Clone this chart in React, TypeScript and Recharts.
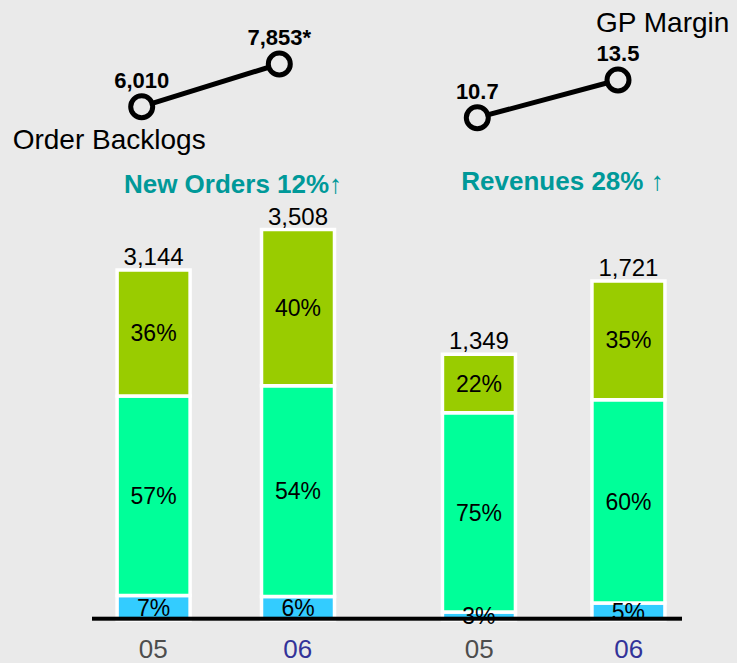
import React from 'react'
import { BarChart, Bar, XAxis, YAxis, LabelList, LineChart, Line } from 'recharts'

const years = ['05', '06']
const yearColors = ['#4D4D4D', '#333399']

// New Orders: totals and segment shares (%)
const orderTotals = [3144, 3508]
const orderSmall = [7, 6]
const orderMain = [57, 54]
const orderTop = [36, 40]

// Revenues: totals and segment shares (%)
const revenueTotals = [1349, 1721]
const revenueSmall = [3, 5]
const revenueMain = [75, 60]
const revenueTop = [22, 35]

const backlogs = [6010, 7853]
const backlogLabels = ['6,010', '7,853*']
const gpMargins = [10.7, 13.5]
const gpLabels = ['10.7', '13.5']

const BG = '#EAEAEA'
const FONT = '"Liberation Sans", Arial, sans-serif'
const W = 737
const H = 663

function buildRows(totals: number[], small: number[], main: number[], top: number[]) {
  return years.map((year, i) => ({
    year,
    total: totals[i],
    small: (totals[i] * small[i]) / 100,
    main: (totals[i] * main[i]) / 100,
    top: (totals[i] * top[i]) / 100,
    smallPct: small[i],
    mainPct: main[i],
    topPct: top[i],
  }))
}

const orderRows = buildRows(orderTotals, orderSmall, orderMain, orderTop)
const revenueRows = buildRows(revenueTotals, revenueSmall, revenueMain, revenueTop)
const backlogRows = backlogs.map((value, idx) => ({ idx, value }))
const gpRows = gpMargins.map((value, idx) => ({ idx, value }))

const YearTick = (props: any) => {
  const { x, y, payload } = props
  const color = yearColors[years.indexOf(payload.value)]
  return (
    <text x={x} y={y + 37.5} textAnchor="middle" fill={color} fontSize={26} fontFamily={FONT}>
      {payload.value}
    </text>
  )
}

const pct = (v: any) => `${v}%`
const thousands = (v: any) => Number(v).toLocaleString('en-US')

function StackedBars({ rows, max, margin }: { rows: any[]; max: number; margin: any }) {
  const labelStyle = { fontSize: 23, fontFamily: FONT, fill: '#000' }
  return (
    <BarChart width={W} height={H} data={rows} margin={margin} barSize={73}>
      <XAxis dataKey="year" height={43} axisLine={false} tickLine={false} tickSize={0} tickMargin={0} tick={<YearTick />} interval={0} />
      <YAxis hide domain={[0, max]} />
      <Bar dataKey="small" stackId="s" fill="#33CCFF" stroke="#FFFFFF" strokeWidth={3.5} isAnimationActive={false}>
        <LabelList dataKey="smallPct" position="center" formatter={pct} style={labelStyle} />
      </Bar>
      <Bar dataKey="main" stackId="s" fill="#00FF99" stroke="#FFFFFF" strokeWidth={3.5} isAnimationActive={false}>
        <LabelList dataKey="mainPct" position="center" formatter={pct} style={labelStyle} />
      </Bar>
      <Bar dataKey="top" stackId="s" fill="#99CC00" stroke="#FFFFFF" strokeWidth={3.5} isAnimationActive={false}>
        <LabelList dataKey="topPct" position="center" formatter={pct} style={labelStyle} />
        <LabelList dataKey="total" position="top" offset={5} formatter={thousands} style={{ fontSize: 24, fontFamily: FONT, fill: '#000' }} />
      </Bar>
    </BarChart>
  )
}

const RingDot = (props: any) => {
  const { cx, cy } = props
  return <circle cx={cx} cy={cy} r={11} fill={BG} stroke="#000" strokeWidth={5} />
}

const pointLabel = (labels: string[]) => (props: any) => {
  const { x, y, index } = props
  return (
    <text x={x} y={y - 19} textAnchor="middle" fontSize={22} fontWeight="bold" fontFamily={FONT} fill="#000">
      {labels[index]}
    </text>
  )
}

function TrendLine({ rows, domain, margin, labels }: { rows: any[]; domain: number[]; margin: any; labels: string[] }) {
  return (
    <LineChart width={W} height={200} data={rows} margin={margin}>
      <XAxis hide type="number" dataKey="idx" domain={[0, 1]} />
      <YAxis hide domain={domain} />
      <Line
        dataKey="value"
        stroke="#000"
        strokeWidth={5}
        dot={<RingDot />}
        label={pointLabel(labels)}
        isAnimationActive={false}
      />
    </LineChart>
  )
}

const layer: React.CSSProperties = { position: 'absolute', left: 0, top: 0 }

export default function App() {
  return (
    <div style={{ position: 'absolute', left: 0, top: 0, width: W, height: H, background: BG, overflow: 'hidden', fontFamily: FONT }}>
      <div style={layer}>
        <StackedBars rows={orderRows} max={4000} margin={{ top: 174.8, right: 367.1, bottom: 0, left: 81.1 }} />
      </div>
      <div style={layer}>
        <StackedBars rows={revenueRows} max={2000} margin={{ top: 226, right: 33.55, bottom: 0, left: 404.45 }} />
      </div>
      <div style={layer}>
        <TrendLine rows={backlogRows} domain={[5000, 8500]} labels={backlogLabels} margin={{ top: 49, right: 457.7, bottom: 69.9, left: 141.7 }} />
      </div>
      <div style={layer}>
        <TrendLine rows={gpRows} domain={[9, 15]} labels={gpLabels} margin={{ top: 59.8, right: 119, bottom: 59.4, left: 477.3 }} />
      </div>
      <svg width={W} height={H} style={{ ...layer, pointerEvents: 'none' }}>
        <rect x={92} y={616.7} width={590} height={4} fill="#000" />
        <text x={12.7} y={149.3} fontSize={28} fontFamily={FONT} fill="#000">Order Backlogs</text>
        <text x={596} y={32.3} fontSize={28} fontFamily={FONT} fill="#000">GP Margin</text>
        <text x={233} y={193} textAnchor="middle" fontSize={26} fontWeight="bold" fontFamily={FONT} fill="#009999">New Orders 12%↑</text>
        <text x={562.5} y={190} textAnchor="middle" fontSize={26} fontWeight="bold" fontFamily={FONT} fill="#009999">Revenues 28% ↑</text>
      </svg>
    </div>
  )
}
